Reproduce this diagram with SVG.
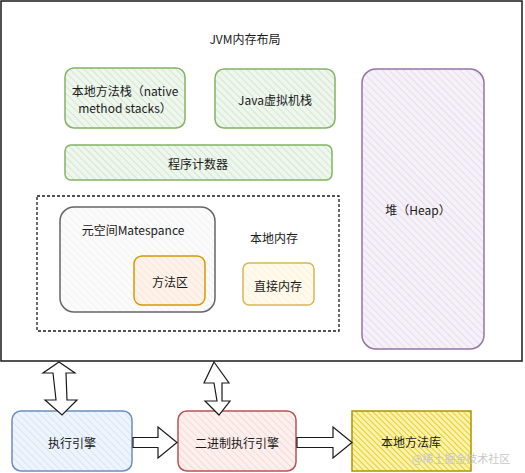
<svg xmlns="http://www.w3.org/2000/svg" width="525" height="473" viewBox="0 0 525 473">
<defs>
<pattern id="hG" width="5" height="5" patternUnits="userSpaceOnUse" patternTransform="rotate(-45)"><rect width="5" height="5" fill="#eef6ed"/><line x1="0" y1="0" x2="0" y2="5" stroke="#b9d9b5" stroke-width="1"/></pattern>
<pattern id="hP" width="5" height="5" patternUnits="userSpaceOnUse" patternTransform="rotate(-45)"><rect width="5" height="5" fill="#f6f1f8"/><line x1="0" y1="0" x2="0" y2="5" stroke="#d8cade" stroke-width="1"/></pattern>
<pattern id="hGr" width="5" height="5" patternUnits="userSpaceOnUse" patternTransform="rotate(-45)"><rect width="5" height="5" fill="#fbfbfb"/><line x1="0" y1="0" x2="0" y2="5" stroke="#ececec" stroke-width="1"/></pattern>
<pattern id="hO" width="5" height="5" patternUnits="userSpaceOnUse" patternTransform="rotate(-45)"><rect width="5" height="5" fill="#fdf3ea"/><line x1="0" y1="0" x2="0" y2="5" stroke="#f6dcc6" stroke-width="1"/></pattern>
<pattern id="hY" width="5" height="5" patternUnits="userSpaceOnUse" patternTransform="rotate(-45)"><rect width="5" height="5" fill="#fffaec"/><line x1="0" y1="0" x2="0" y2="5" stroke="#f7ebc6" stroke-width="1"/></pattern>
<pattern id="hB" width="5" height="5" patternUnits="userSpaceOnUse" patternTransform="rotate(-45)"><rect width="5" height="5" fill="#eef4fc"/><line x1="0" y1="0" x2="0" y2="5" stroke="#c3d6f0" stroke-width="1"/></pattern>
<pattern id="hR" width="5" height="5" patternUnits="userSpaceOnUse" patternTransform="rotate(-45)"><rect width="5" height="5" fill="#fcf0ef"/><line x1="0" y1="0" x2="0" y2="5" stroke="#f2c2bf" stroke-width="1"/></pattern>
<pattern id="hYY" width="4" height="4" patternUnits="userSpaceOnUse" patternTransform="rotate(-45)"><rect width="4" height="4" fill="#fbf2b0"/><line x1="0" y1="0" x2="0" y2="4" stroke="#e3c800" stroke-width="1.6"/></pattern>
</defs>
<style>
text{font-family:"Noto Sans CJK SC","DejaVu Sans",sans-serif;font-size:12px;fill:#1a1a1a;text-anchor:middle;dominant-baseline:central}
.box{stroke-width:1.5}
.arrow{fill:#ffffff;stroke:#1a1a1a;stroke-width:1.2;stroke-linejoin:miter}
</style>
<rect width="525" height="473" fill="#ffffff"/>
<g id="jvm">
<rect x="1" y="1" width="521" height="360" fill="#ffffff" stroke="#1a1a1a" stroke-width="1.5"/>
<text x="245" y="38">JVM内存布局</text>
</g>
<g id="native-stack">
<rect class="box" x="65" y="68" width="120" height="60" rx="9" fill="url(#hG)" stroke="#82b366"/>
<text x="125" y="90">本地方法栈（native</text>
<text x="125" y="107">method stacks）</text>
</g>
<g id="java-stack">
<rect class="box" x="215" y="69" width="120" height="59" rx="9" fill="url(#hG)" stroke="#82b366"/>
<text x="275" y="99">Java虚拟机栈</text>
</g>
<g id="pc">
<rect class="box" x="65" y="145" width="267" height="35" rx="6" fill="url(#hG)" stroke="#82b366"/>
<text x="198" y="163">程序计数器</text>
</g>
<g id="heap">
<rect class="box" x="362" y="69" width="122" height="280" rx="14" fill="url(#hP)" stroke="#9673a6"/>
<text x="418" y="209">堆（Heap）</text>
</g>
<g id="local-memory">
<rect x="37" y="196" width="302" height="135" fill="none" stroke="#1a1a1a" stroke-width="1.3" stroke-dasharray="3 2"/>
<text x="274" y="237">本地内存</text>
</g>
<g id="metaspace">
<rect class="box" x="60" y="207" width="155" height="105" rx="14" fill="url(#hGr)" stroke="#666666"/>
<text x="133" y="229">元空间Matespance</text>
</g>
<g id="method-area">
<rect class="box" x="134" y="256" width="71" height="49" rx="8" fill="url(#hO)" stroke="#d79b00"/>
<text x="170" y="281">方法区</text>
</g>
<g id="direct-memory">
<rect class="box" x="243" y="263" width="71" height="42" rx="6" fill="url(#hY)" stroke="#d6b656"/>
<text x="278" y="285">直接内存</text>
</g>
<g id="exec-engine">
<rect class="box" x="12" y="411" width="120" height="60" rx="9" fill="url(#hB)" stroke="#6c8ebf"/>
<text x="72" y="442">执行引擎</text>
</g>
<g id="binary-engine">
<rect class="box" x="178" y="411" width="118" height="60" rx="9" fill="url(#hR)" stroke="#b85450"/>
<text x="237" y="442">二进制执行引擎</text>
</g>
<g id="native-lib">
<rect class="box" x="352" y="411" width="119" height="60" fill="url(#hYY)" stroke="#b09500"/>
<text x="411" y="441">本地方法库</text>
</g>
<g id="connectors">
<polygon class="arrow" points="59,362 75,373 66,373 67,400 77,400 62,415 45,400 56,400 53,373 43,373"/>
<polygon class="arrow" points="214,362 229,383 222,383 222,401 230,401 219,415 205,401 217,401 214,383 204,383"/>
<polygon class="arrow" points="133,437.5 158,437.5 158,427 177,442.5 158,458 158,447.5 133,447.5"/>
<polygon class="arrow" points="297,437.5 333,437.5 333,427 352,442.5 333,458 333,447.5 297,447.5"/>
</g>
<text x="461" y="458" style="font-size:11px;fill:#c8c8c8">@稀土掘金技术社区</text>
</svg>
